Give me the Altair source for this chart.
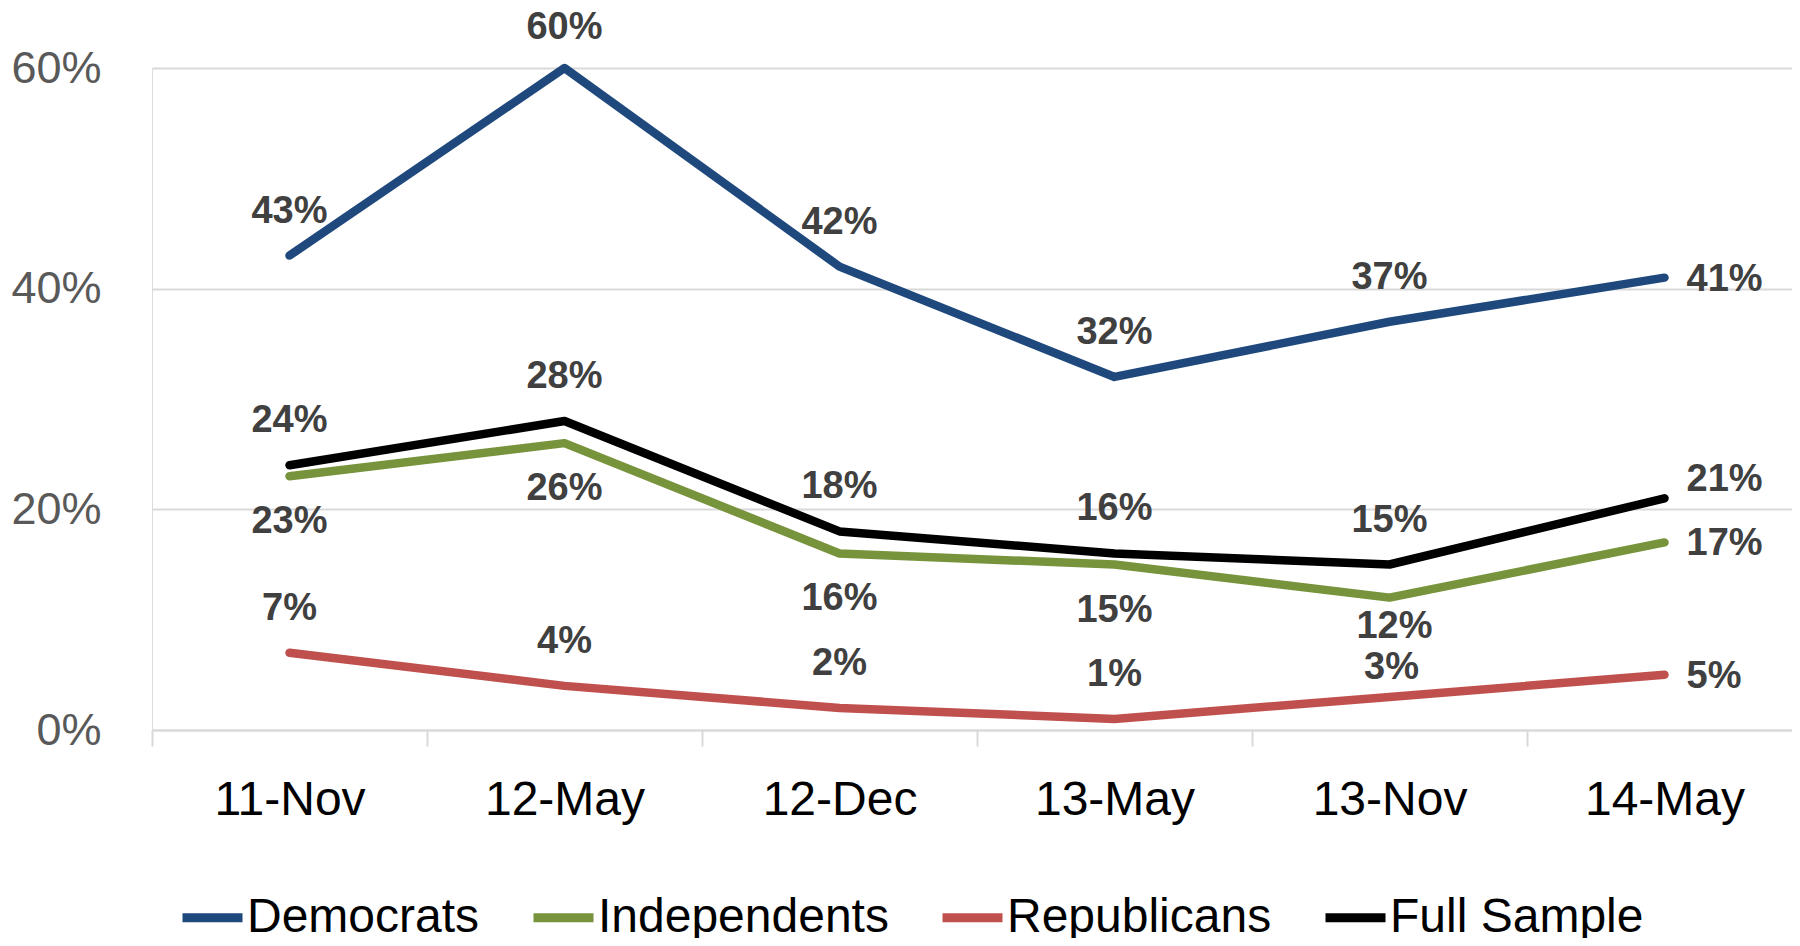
import altair as alt
import pandas as pd

dates = ["11-Nov", "12-May", "12-Dec", "13-May", "13-Nov", "14-May"]
series = ["Democrats", "Independents", "Republicans", "Full Sample"]
colors = ["#1F497D", "#77933C", "#C0504D", "#000000"]

democrats = [43, 60, 42, 32, 37, 41]
independents = [23, 26, 16, 15, 12, 17]
republicans = [7, 4, 2, 1, 3, 5]
full_sample = [24, 28, 18, 16, 15, 21]

# label placement keywords (t=top, b=bottom, r=right, tr=top-right, tn/bn=near top/bottom)
dem_pos = ["t", "tt", "t", "t", "t", "r"]
ind_pos = ["b", "b", "b", "b", "bn", "r"]
rep_pos = ["t", "t", "t", "t", "tn", "r"]
full_pos = ["t", "t", "t", "t", "t", "tr"]

rows = []
for name, vals, pos in zip(series, [democrats, independents, republicans, full_sample],
                           [dem_pos, ind_pos, rep_pos, full_pos]):
    for d, v, p in zip(dates, vals, pos):
        rows.append({"date": d, "series": name, "value": v / 100, "pos": p})
df = pd.DataFrame(rows)

FONT = "Liberation Sans, Arial, sans-serif"

x = alt.X("date:N", sort=dates,
          scale=alt.Scale(type="band", paddingInner=0, paddingOuter=0, range=[0, 1650]),
          axis=alt.Axis(title=None, labelAngle=0, labelFont=FONT, labelFontSize=48,
                        labelColor="#000000", labelPadding=30, tickBand="extent",
                        tickColor="#D9D9D9", tickWidth=2, tickSize=16,
                        domainColor="#D9D9D9", domainWidth=2, grid=False))
y = alt.Y("value:Q",
          scale=alt.Scale(domain=[0, 0.6], nice=False, zero=True),
          axis=alt.Axis(title=None, values=[0, 0.2, 0.4, 0.6], format=".0%",
                        labelFont=FONT, labelFontSize=45, labelColor="#595959",
                        labelPadding=51, ticks=False, domain=False,
                        gridColor="#D9D9D9", gridWidth=2))

color = alt.Color("series:N",
                  scale=alt.Scale(domain=series, range=colors),
                  legend=alt.Legend(title=None, orient="none", legendX=26, legendY=815,
                                    direction="horizontal", symbolType="stroke",
                                    symbolSize=3600, symbolStrokeWidth=9,
                                    labelFont=FONT, labelFontSize=48, labelColor="#000000",
                                    labelLimit=500, labelOffset=0, columnPadding=35,
                                    padding=0))

lines = alt.Chart(df).mark_line(strokeWidth=8.5, strokeCap="round", strokeJoin="round").encode(
    x=x, y=y, color=color, detail="series:N"
)

base_text = alt.Chart(df).encode(
    x=alt.X("date:N", sort=dates), y="value:Q",
    text=alt.Text("value:Q", format=".0%")
)

placements = {
    "t": dict(dy=-44, dx=0, align="center"),
    "tt": dict(dy=-40, dx=0, align="center"),
    "b": dict(dy=46, dx=0, align="center"),
    "tn": dict(dy=-29, dx=2, align="center"),
    "bn": dict(dy=29, dx=5, align="center"),
    "r": dict(dy=2, dx=22, align="left"),
    "tr": dict(dy=-18, dx=22, align="left"),
}

text_layers = []
for key, p in placements.items():
    text_layers.append(
        base_text.transform_filter(alt.datum.pos == key).mark_text(
            font=FONT, fontSize=38, fontWeight="bold", color="#404040",
            baseline="middle", **p)
    )

chart = alt.layer(lines, *text_layers).properties(
    width=1640, height=662,
    padding={"left": 144, "top": 60, "right": 0, "bottom": 208},
    autosize=alt.AutoSizeParams(type="none"),
).configure_view(stroke=None).configure(background="white")

chart.save("out.html", embed_options={"renderer": "svg", "actions": False})
